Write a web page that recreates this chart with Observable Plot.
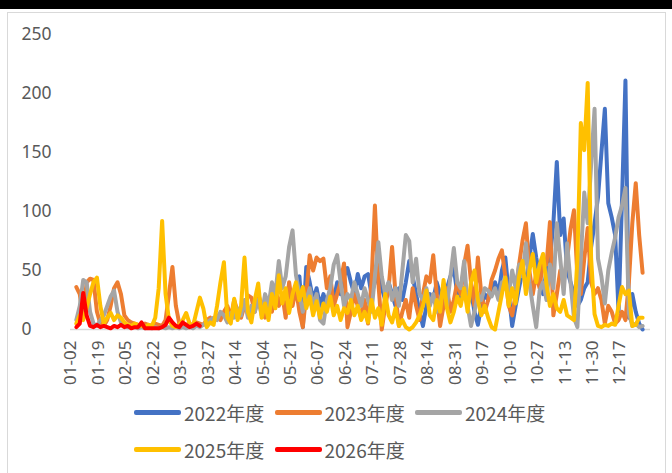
<!DOCTYPE html>
<html><head><meta charset="utf-8">
<script src="https://cdn.jsdelivr.net/npm/d3@7"></script>
<script src="https://cdn.jsdelivr.net/npm/@observablehq/plot@0.6"></script>
<style>
body{margin:0;background:#fff;}
#wrap{position:relative;width:672px;height:473px;overflow:hidden;background:#fff;font-family:"Noto Sans",sans-serif;}
#topbar{position:absolute;left:0;top:0;width:672px;height:9px;background:#000;}
#frame{position:absolute;left:7px;top:12px;width:659px;height:480px;border:1px solid #d9d9d9;box-sizing:border-box;}
#chart{position:absolute;left:0;top:0;}
#legend{position:absolute;left:134px;top:394px;width:430px;display:flex;flex-wrap:wrap;}
.item{display:flex;align-items:center;width:140.5px;height:37px;}
.sw{width:47px;height:4.5px;border-radius:2px;margin-right:3px;flex:none;}
.lab{font-family:"Noto Sans CJK SC",sans-serif;font-size:19px;font-weight:400;color:#595959;white-space:nowrap;}
</style></head>
<body>
<div id="wrap"><div id="topbar"></div><div id="frame"></div><div id="chart"></div><div id="legend"></div></div>
<script>
const xLabels = ["01-02","01-19","02-05","02-22","03-10","03-27","04-14","05-04","05-21","06-07","06-24","07-11","07-28","08-14","08-31","09-17","10-10","10-27","11-13","11-30","12-17"];
const yTicks = [0,50,100,150,200,250];
const seriesNames = ["2022年度","2023年度","2024年度","2025年度","2026年度"];
const seriesColors = ["#4472C4","#ED7D31","#A5A5A5","#FFC000","#FF0000"];

const s2022 = [
null,null,null,null,null,null,null,null,
null,null,null,null,null,null,null,null,
null,null,null,null,null,null,null,null,
null,null,null,null,null,null,null,null,
null,null,null,null,null,null,null,null,
null,null,null,null,null,null,null,null,
null,null,null,null,null,null,null,null,
null,null,null,null,null,null,null,null,
30,45,2,53,40,25,35,20,
30,20,35,25,40,30,45,52,
40,30,47,35,45,47,30,40,
47,35,25,40,30,20,35,25,
40,58,45,30,15,3,20,30,
25,40,30,20,35,45,52,30,
25,35,20,33,15,4,20,30,
25,35,40,30,50,61,30,3,
20,35,50,40,60,81,61,45,
30,50,60,90,142,80,94,50,
40,30,20,25,35,40,70,90,
112,150,187,107,95,80,15,110,
211,10,30,15,5,0];

const s2023 = [
36,30,10,40,43,42,15,5,
3,8,20,35,40,30,12,8,
6,5,4,3,5,4,3,5,
4,3,8,30,53,20,5,3,
4,5,3,6,5,4,8,10,
6,12,8,15,20,10,25,15,
10,20,29,27,15,30,20,10,
25,15,35,20,30,10,40,20,
35,15,2,30,63,50,61,58,
60,35,45,20,30,40,56,2,
15,30,20,10,25,5,40,105,
40,0,20,35,70,30,3,15,
25,10,35,20,8,30,45,40,
63,30,3,20,35,15,25,40,
30,55,71,40,20,61,30,15,
25,42,50,60,67,45,20,12,
30,55,75,90,50,30,47,35,
60,55,91,12,30,50,40,60,
85,101,45,30,60,86,40,30,
35,25,5,20,15,5,8,15,
8,40,90,124,80,48];

const s2024 = [
8,20,42,40,15,5,3,8,
12,20,28,33,15,6,3,2,
2,3,1,2,1,2,1,2,
1,2,1,2,1,2,1,2,
1,2,1,3,2,4,6,8,
10,8,15,12,6,14,10,18,
12,25,10,20,15,25,12,30,
20,40,30,58,35,45,70,84,
46,30,15,25,35,20,30,8,
5,25,35,55,63,40,20,30,
25,40,30,20,35,25,15,45,
74,45,30,40,25,35,20,50,
80,75,40,60,30,25,35,20,
30,15,25,35,20,45,69,40,
35,58,20,3,15,30,25,35,
33,28,35,25,40,35,30,50,
35,55,45,73,40,20,2,33,
40,25,55,35,90,60,30,73,
40,10,2,60,116,90,140,187,
60,45,22,50,65,78,95,105,
120,14,3,5,2,3];

const s2025 = [
5,12,8,18,30,40,44,20,
5,10,14,8,12,10,6,4,
3,5,4,3,2,4,3,10,
35,92,30,8,3,2,4,8,
14,5,3,15,27,18,2,6,
4,20,40,57,10,5,26,8,
20,61,15,6,25,39,10,22,
8,30,18,46,22,35,14,30,
40,25,36,18,28,12,24,10,
22,15,28,12,20,8,18,14,
25,12,20,8,15,6,25,10,
18,4,30,12,6,18,3,8,
2,0,2,6,12,20,33,12,
8,25,15,42,18,6,15,28,
20,35,15,40,50,25,12,20,
10,2,0,15,30,44,20,35,
22,45,58,30,50,64,40,55,
64,38,20,30,18,15,25,12,
10,8,60,175,152,209,60,13,
3,2,4,3,5,4,20,36,
30,33,3,4,10,10];

const s2026 = [
2,5,31,12,3,2,4,2,
3,2,1,3,2,4,2,3,
1,2,2,6,1,1,1,1,
1,2,4,10,6,3,2,6,
4,2,3,5,3];

const allSeries = [s2022,s2023,s2024,s2025,s2026];
const tickIdx = xLabels.map((_, k) => k * 8);

const lineMarks = allSeries.map((vals, k) =>
  Plot.line(vals, {x: (d, i) => i, y: d => d, stroke: seriesColors[k], strokeWidth: 4,
    strokeLinejoin: "round", strokeLinecap: "round"}));

const chart = Plot.plot({
  width: 672, height: 390,
  marginLeft: 70, marginRight: 22, marginTop: 34, marginBottom: 61,
  x: {domain: [-1.7, 167.3], axis: null},
  y: {domain: [0, 250], axis: null},
  style: {background: "transparent"},
  marks: [
    Plot.ruleY([0], {stroke: "#d9d9d9", strokeWidth: 1.5}),
    ...lineMarks,
    Plot.text(yTicks, {y: d => d, text: d => String(d), frameAnchor: "left", dx: -49,
      textAnchor: "start", fontSize: 17.5, fill: "#595959", fontFamily: "Noto Sans"}),
    Plot.text(tickIdx, {x: d => d, text: (d, i) => xLabels[i], frameAnchor: "bottom", rotate: -90,
      textAnchor: "end", dy: 11, fontSize: 17, fill: "#595959", fontFamily: "Noto Sans"})
  ]
});
document.getElementById("chart").appendChild(chart);

const leg = document.getElementById("legend");
seriesNames.forEach((n, k) => {
  const it = document.createElement("div"); it.className = "item";
  const sw = document.createElement("div"); sw.className = "sw"; sw.style.background = seriesColors[k];
  const lb = document.createElement("span"); lb.className = "lab"; lb.textContent = n;
  it.appendChild(sw); it.appendChild(lb); leg.appendChild(it);
});
</script>
</body></html>
